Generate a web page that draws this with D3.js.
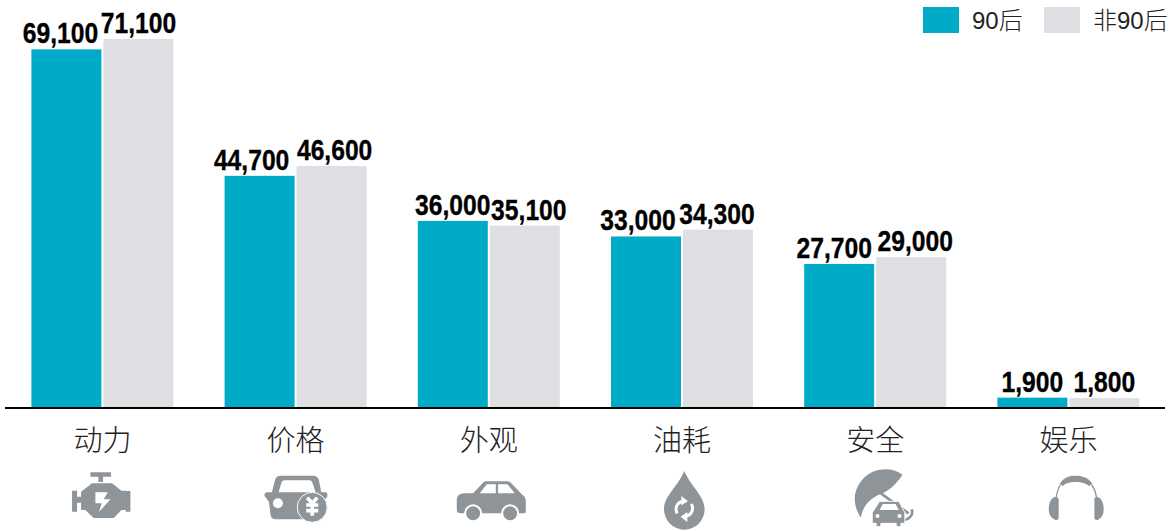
<!DOCTYPE html>
<html><head><meta charset="utf-8">
<script src="https://cdnjs.cloudflare.com/ajax/libs/d3/7.8.5/d3.min.js"></script>
<style>html,body{margin:0;padding:0;background:#fff}svg{display:block}
.cjk{font-family:"Liberation Sans","Noto Sans CJK SC",sans-serif;font-weight:300}
.val{font-family:"Liberation Sans",sans-serif;font-weight:700;font-size:29px;fill:#000;stroke:#000;stroke-width:.35px}
</style></head><body><svg id="c" width="1175" height="531"></svg>
<script>
const categories = ["动力","价格","外观","油耗","安全","娱乐"];
const seriesNames = ["90后","非90后"];
const values90 = [69100,44700,36000,33000,27700,1900];
const valuesNon90 = [71100,46600,35100,34300,29000,1800];

const colors = ["#00abc8","#dedfe2"];
const iconGrey = "#8f9499";
const labelNudge = [[-6,0],[-8,3],[0,4],[-8,-1],[-5,4],[0,0]];

const svg = d3.select("#c");
const x0 = d3.scaleBand().domain(categories).range([5.8,1165]);
const x1 = d3.scaleBand().domain(seriesNames).range([25.6,167.6]).paddingInner(0.028);
const y = d3.scaleLinear().domain([0,71100]).range([407.5,39]);
const rows = categories.map((c,i)=>({c,i,v:[values90[i],valuesNon90[i]]}));

const groups = svg.selectAll("g.grp").data(rows).join("g").attr("class","grp")
  .attr("transform",d=>`translate(${x0(d.c)},0)`);
groups.selectAll("rect").data(d=>d.v.map((v,k)=>({v,k}))).join("rect")
  .attr("x",d=>x1(seriesNames[d.k])).attr("width",x1.bandwidth())
  .attr("y",d=>y(d.v)).attr("height",d=>y(0)-y(d.v)).attr("fill",d=>colors[d.k]);
groups.selectAll("text").data(d=>d.v.map((v,k)=>({v,k,n:labelNudge[d.i]}))).join("text")
  .attr("class","val").attr("text-anchor","middle")
  .attr("transform",d=>`translate(${x1(seriesNames[d.k])+x1.bandwidth()/2+d.n[d.k]},${y(d.v)-6}) scale(0.85,1)`)
  .text(d=>d3.format(",")(d.v));

const axis = svg.append("g").attr("transform",`translate(0,408)`)
  .call(d3.axisBottom(x0).tickSize(0).tickPadding(22));
axis.select(".domain").attr("stroke","#000").attr("stroke-width",2).attr("d","M5,0H1165");
axis.selectAll("text").attr("class","cjk").style("font-size","29px").attr("fill","#222");

// legend
const lg = svg.append("g");
[[923,972],[1044,1093]].forEach(([sx,tx],i)=>{
  lg.append("rect").attr("x",sx).attr("y",7).attr("width",36).attr("height",26).attr("fill",colors[i]);
  lg.append("text").attr("class","cjk").attr("x",tx).attr("y",29).style("font-size","24px")
    .attr("fill","#222").text(seriesNames[i]);
});

// pictograms under each category, drawn in a 3x design grid
const W = "#fff";
const icons = [
 {ox:-52,draw:g=>{
  g.append("path").attr("fill",iconGrey).attr("d","M120 37H182V50H158V66H144V50H120Z");
  g.append("path").attr("fill",iconGrey).attr("d","M125 70H185L213 92H226V93H240V155H226V150H213L190 174H130L105 150H92V128H80V155H65V92H80V110H92V95Z");
  g.append("path").attr("fill",W).attr("d","M135 97H172L160 118H180L146 156L154 130H135Z");
 }},
 {ox:-245,draw:g=>{
  g.append("path").attr("fill",iconGrey).attr("d","M664 97L674 58Q677 47 690 47H788Q801 47 805 60L812 97H826Q832 98 830 110L820 122V160L800 178H676Q662 178 660 165L655 125L642 108Q640 97 650 97Z");
  g.append("path").attr("fill",W).attr("d","M684 97L693 67Q695 61 702 61H776Q783 61 785 67L795 97Z");
  g.append("circle").attr("cx",682).attr("cy",130).attr("r",15).attr("fill",W);
  g.append("circle").attr("cx",785).attr("cy",142).attr("r",45).attr("fill",iconGrey).attr("stroke",W).attr("stroke-width",3);
  g.append("path").attr("fill","none").attr("stroke",W).attr("stroke-width",11).attr("d","M770 113L785 130L800 113M785 130V167M767 135H803M767 152H803");
 }},
 {ox:-48,draw:g=>{
  g.append("path").attr("fill",iconGrey).attr("d","M48 118Q50 100 70 100H97L128 67Q131 64 136 64H200Q206 64 210 68L245 105Q255 110 255 125V155Q255 160 250 160H60Q48 160 48 150Z");
  g.append("path").attr("fill",W).attr("d","M117 100L138 73H165V100ZM172 73H200L222 100H172Z");
  [[97,160],[208,160]].forEach(([cx,cy])=>g.append("circle").attr("cx",cx).attr("cy",cy).attr("r",24).attr("fill",iconGrey).attr("stroke",W).attr("stroke-width",6));
 }},
 {ox:-242,draw:g=>{
  g.append("path").attr("fill",iconGrey).attr("d","M733 33C712 82 672 108 672 148A61 61 0 0 0 794 148C794 108 754 82 733 33Z");
  g.append("path").attr("fill","none").attr("stroke",W).attr("stroke-width",9).attr("d","M712 160A24 24 0 0 1 726 124M754 132A24 24 0 0 1 740 168");
  g.append("path").attr("fill",W).attr("d","M724 108L744 124L724 136ZM742 156L722 170L742 186Z");
 }},
 {ox:-35,draw:g=>{
  g.append("path").attr("fill",iconGrey).attr("d","M187 44C150 18 100 25 70 55C38 90 35 132 62 173C66 145 85 115 122 102C150 90 170 70 187 44Z");
  g.append("path").attr("fill","none").attr("stroke",iconGrey).attr("stroke-width",8).attr("d","M122 100L205 160");
  g.append("path").attr("fill","none").attr("stroke",iconGrey).attr("stroke-width",8).attr("d","M214 148C222 165 205 178 192 180");
  g.append("path").attr("fill",iconGrey).attr("stroke",W).attr("stroke-width",3).attr("d","M96 158L118 124H176L194 158V190H182V200H168V190H122V200H108V190H96Z");
  g.append("path").attr("fill",W).attr("d","M118 150L128 132H166L176 150Z");
  [[112,168],[178,168]].forEach(([cx,cy])=>g.append("circle").attr("cx",cx).attr("cy",cy).attr("r",6).attr("fill",W));
 }},
 {ox:-228,draw:g=>{
  g.append("path").attr("fill",iconGrey).attr("d","M658 72C670 52 685 47 705 47C725 47 745 52 756 72L745 78C730 62 680 62 668 78Z");
  g.append("path").attr("fill","none").attr("stroke",iconGrey).attr("stroke-width",4).attr("d","M660 75C650 90 648 105 647 120M754 75C765 90 768 105 769 120");
  g.append("path").attr("fill",iconGrey).attr("d","M640 112Q652 108 655 118V172Q655 182 645 180Q625 172 625 148Q625 122 640 112Z");
  g.append("path").attr("fill",iconGrey).attr("d","M775 112Q763 108 762 118V172Q762 182 772 180Q790 172 790 148Q790 122 775 112Z");
 }}
];
rows.forEach((d,i)=>{
  const g = svg.append("g").attr("transform",`translate(${x0(d.c)+x0.bandwidth()/2+icons[i].ox},460) scale(0.3333)`);
  icons[i].draw(g);
});
</script></body></html>
